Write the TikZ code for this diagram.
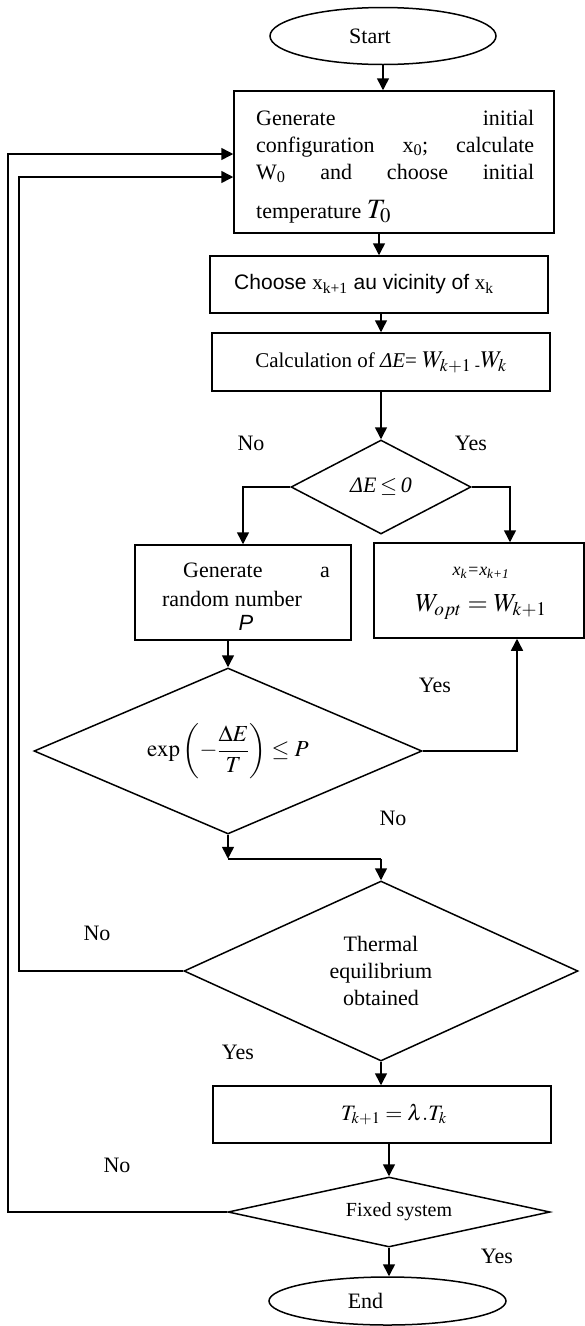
\documentclass[tikz,border=0pt]{standalone}
\usepackage{mathptmx}
\usepackage[no-math]{fontspec}
\setmainfont{Liberation Serif}
\setsansfont{Liberation Sans}
\usetikzlibrary{shapes.geometric,arrows.meta,calc}
\begin{document}
\begin{tikzpicture}[x=1pt,y=-1pt,
  every node/.style={font=\fontsize{22}{27}\selectfont},
  box/.style={draw,line width=1.5pt,rectangle,inner sep=0pt},
  dia/.style={draw,line width=1.5pt,diamond,inner sep=0pt},
  oval/.style={draw,line width=1.5pt,ellipse,inner sep=0pt},
  arr/.style={line width=1.5pt,-{Triangle[length=12pt,width=12pt]}},
  ln/.style={line width=1.5pt},
  lbl/.style={inner sep=0pt}]
\useasboundingbox (0,0) rectangle (585,1326);

% ---- nodes
\node[oval,minimum width=226pt,minimum height=57pt] (start) at (383,36) {Start\hspace*{26pt}};

\node[box,minimum width=320pt,minimum height=142pt] (b1) at (394,162) {};
\node[lbl,anchor=base west] (b1t1) at (256,125) {\hbox to 278pt{Generate\hfill initial}};
\node[lbl,anchor=base west] (b1t2) at (256,152) {\hbox to 278pt{configuration\hfill x\textsubscript{0};\hfill calculate}};
\node[lbl,anchor=base west] (b1t3) at (256,179) {\hbox to 278pt{W\textsubscript{0}\hfill and\hfill choose\hfill initial}};
\node[lbl,anchor=base west] (b1t4) at (256,218) {temperature {\fontsize{28}{28}\selectfont$T_0$}};

\node[box,minimum width=338pt,minimum height=57pt,font=\fontsize{21}{25}\selectfont] (b2) at (379,284.5)
  {\sffamily Choose {\rmfamily x\textsubscript{k+1}} au vicinity of {\rmfamily x\textsubscript{k}}\hspace*{30pt}};

\node[box,minimum width=338pt,minimum height=58pt,font=\fontsize{21}{25}\selectfont] (b3) at (381,362)
  {Calculation of \textit{ΔE}= {\fontsize{24}{24}\selectfont$W_{k+1}$}\,\textsubscript{-}{\fontsize{24}{24}\selectfont$W_k$}};

\node[dia,minimum width=180pt,minimum height=94pt,aspect=1.9] (d1) at (381,487) {\textit{ΔE}\,$\leq$\,\textit{0}};

\node[box,minimum width=216pt,minimum height=95pt] (b4) at (243,592.5) {};
\node[lbl,anchor=base west] (b4t1) at (183,577) {Generate};
\node[lbl,anchor=base east] (b4t2) at (330,577) {a};
\node[lbl,anchor=base] (b4t3) at (232,606) {random number};
\node[lbl,anchor=base] (b4t4) at (246,630) {\sffamily\itshape P};

\node[box,minimum width=210pt,minimum height=95pt] (b5) at (479,590.5) {};
\node[lbl,font=\fontsize{18}{20}\selectfont] (b5t1) at (481,573) {\textit{x\textsubscript{k}=x\textsubscript{k+1}}};
\node[lbl,font=\fontsize{26}{26}\selectfont] (b5t2) at (481,607) {$W_{opt} = W_{k+1}$};

\node[dia,minimum width=388pt,minimum height=166pt,aspect=2.3,font=\fontsize{23}{27}\selectfont] (d2) at (228,751)
  {$\displaystyle\exp\left(-\frac{\Delta E}{T}\right)\le P$};

\node[dia,minimum width=394pt,minimum height=180pt,aspect=2.2,align=center] (d3) at (381,971)
  {Thermal\\equilibrium\\obtained};

\node[box,minimum width=338pt,minimum height=57pt] (b6) at (382,1114.5) {\hspace*{24pt}$T_{k+1} = \lambda.T_k$};

\node[dia,minimum width=322pt,minimum height=70pt,aspect=4.6,font=\fontsize{20}{24}\selectfont] (d4) at (389,1212)
  {\hspace*{20pt}Fixed system};

\node[oval,minimum width=237pt,minimum height=48pt] (end) at (387.5,1301) {End\hspace*{44pt}};

% ---- labels
\node[lbl] (no1) at (251,443) {No};
\node[lbl] (yes1) at (471,443) {Yes};
\node[lbl] (yes2) at (435,685) {Yes};
\node[lbl] (no2) at (393,818) {No};
\node[lbl] (no3) at (97,933) {No};
\node[lbl] (yes3) at (238,1052) {Yes};
\node[lbl] (no4) at (117,1165) {No};
\node[lbl] (yes4) at (497,1256) {Yes};

% ---- connectors
\draw[arr] (start.south) -- (start.south |- b1.north);
\draw[arr] (b2.north |- b1.south) -- (b2.north);
\draw[arr] (b3.north |- b2.south) -- (b3.north);
\draw[arr] (d1.north |- b3.south) -- (d1.north);
\draw[arr] (d1.west) -| (b4.north);
\draw[arr] (d1.east) -| ($(b5.north)+(31,0)$);
\draw[arr] (d2.north |- b4.south) -- (d2.north);
\draw[arr] (d2.east) -| ($(b5.south)+(38,0)$);
\coordinate (j1) at ($(d2.south)+(0,24)$);
\draw[arr] (d2.south) -- (j1);
\draw[ln] (j1) -- (j1 -| d3.north);
\draw[arr] (j1 -| d3.north) -- (d3.north);
\draw[arr] (d3.south) -- (d3.south |- b6.north);
\draw[arr] (d4.north |- b6.south) -- (d4.north);
\draw[arr] (d4.south) -- (d4.south |- end.north);

\coordinate (L1) at (19,0);
\coordinate (L2) at (8,0);
\coordinate (in1) at ($(b1.west)+(0,15)$);
\coordinate (in2) at ($(b1.west)+(0,-8)$);
\draw[arr] (d3.west) -- (d3.west -| L1) |- (in1);
\draw[arr] (d4.west) -- (d4.west -| L2) |- (in2);
\end{tikzpicture}
\end{document}
